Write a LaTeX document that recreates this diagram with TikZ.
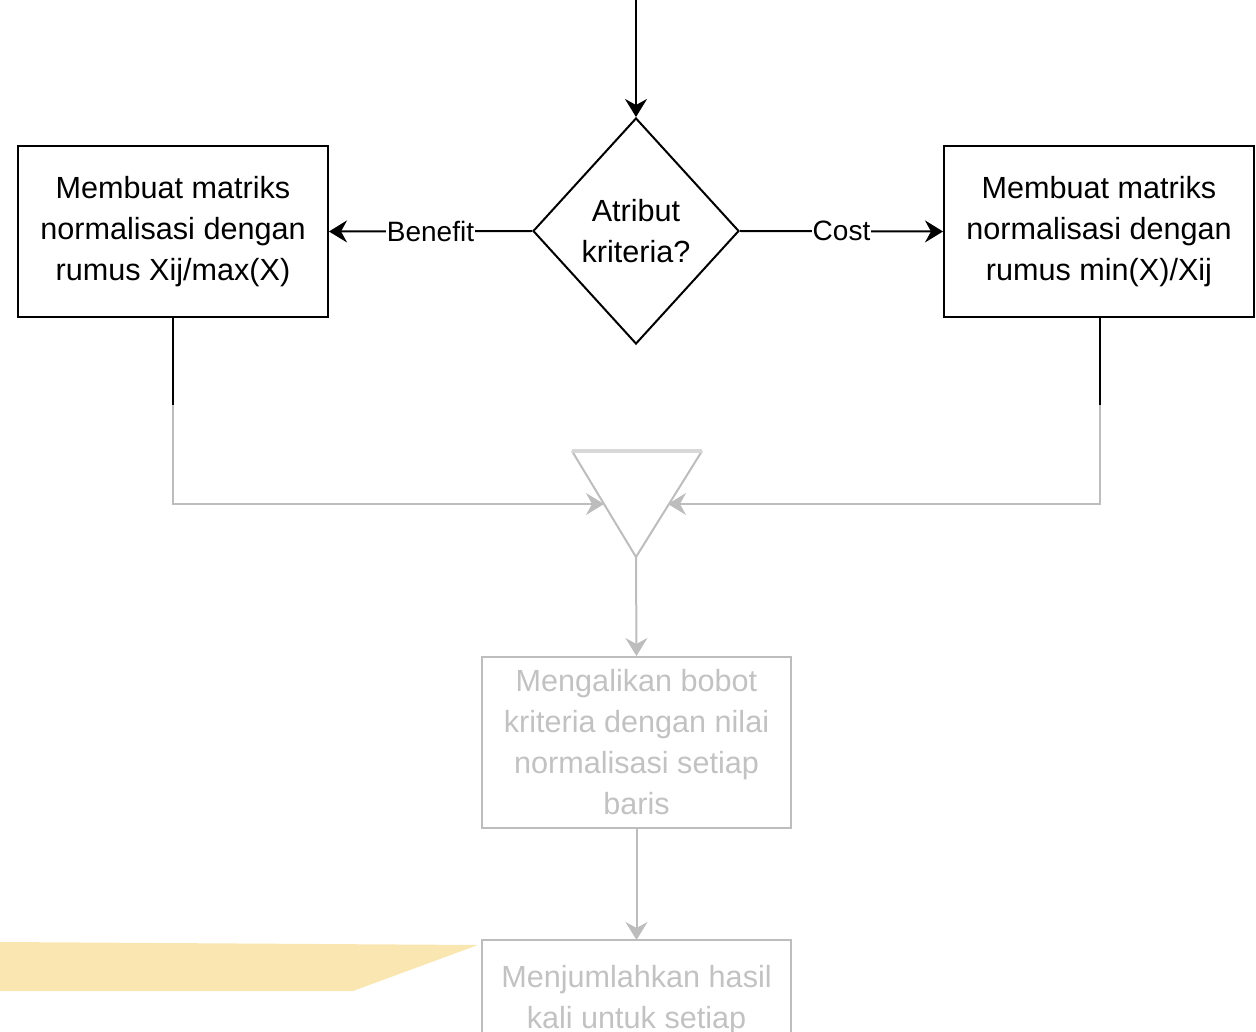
\documentclass[tikz,border=0pt]{standalone}
\usepackage{fontspec}
\setmainfont{Liberation Sans}
\usetikzlibrary{shapes.geometric,arrows.meta}
\definecolor{inkgray}{HTML}{BDBDBD}
\definecolor{textgray}{HTML}{C2C2C2}
\definecolor{topgray}{HTML}{D8D8D8}
\definecolor{band}{HTML}{FAE6B0}
\tikzset{
  tip/.style={-{Stealth[length=18pt,width=22pt,inset=6pt]}},
  boxtext/.style={font=\fontsize{30.6}{41}\selectfont, align=center},
  stepbox/.style={draw=black, line width=2pt, minimum width=310pt, minimum height=171pt, inner sep=0pt, boxtext},
  faintbox/.style={draw=inkgray, line width=2pt, minimum width=309pt, minimum height=171pt, inner sep=0pt, boxtext, text=textgray},
  decision/.style={draw=black, line width=2pt, diamond, minimum width=206pt, minimum height=226pt, inner sep=0pt, boxtext},
  edgelabel/.style={font=\fontsize{28}{32}\selectfont, fill=white, inner sep=1pt},
  blackline/.style={draw=black, line width=2pt},
  grayline/.style={draw=inkgray, line width=2pt},
}
\begin{document}
\begin{tikzpicture}[x=1pt,y=-1pt]
  \useasboundingbox (0,0) rectangle (1256,1032);
  \clip (0,0) rectangle (1256,1032);

  % highlight band on the left
  \fill[band] (0,942) -- (478,945) -- (353,991) -- (0,991) -- cycle;

  % entry point and decision
  \coordinate (entry) at (636,0);
  \node[decision] (dec) at (636,231) {Atribut\\kriteria?};

  % the two normalisation steps
  \node[stepbox] (benefit) at (173,231.5) {Membuat matriks\\normalisasi dengan\\rumus Xij/max(X)};
  \node[stepbox] (cost) at (1099,231.5) {Membuat matriks\\normalisasi dengan\\rumus min(X)/Xij};

  % merge triangle
  \coordinate (tl) at (572,451);
  \coordinate (tr) at (702,451);
  \coordinate (apex) at (636,557);
  \coordinate (inL) at (604,504);
  \coordinate (inR) at (668,504);
  \draw[inkgray, line width=2pt, line join=miter] (tl) -- (apex) -- (tr);
  \draw[topgray, line width=4pt] (tl) -- (tr);

  % following steps
  \node[faintbox] (mult) at (636.5,742.5) {Mengalikan bobot\\kriteria dengan nilai\\normalisasi setiap\\baris};
  \draw[grayline] (482,940) rectangle (791,1100);
  \coordinate (sumtop) at (636.5,940);
  \node[boxtext, text=textgray, anchor=north] (sum) at (636.5,962) {Menjumlahkan hasil\\kali untuk setiap};

  % connectors
  \draw[blackline, tip] (entry) -- (dec.north);
  \draw[blackline, tip] (dec.west) -- node[edgelabel] {Benefit} (benefit.east);
  \draw[blackline, tip] (dec.east) -- node[edgelabel] {Cost} (cost.west);

  \coordinate (lbend) at (173,405);
  \coordinate (rbend) at (1100,405);
  \draw[blackline] (benefit.south) -- (lbend);
  \draw[blackline] (cost.south -| rbend) -- (rbend);
  \draw[grayline, tip] (lbend) |- (inL);
  \draw[grayline, tip] (rbend) |- (inR);

  \draw[grayline, tip] (apex) -- (mult.north);
  \draw[grayline, tip] (mult.south) -- (sumtop);
\end{tikzpicture}
\end{document}
